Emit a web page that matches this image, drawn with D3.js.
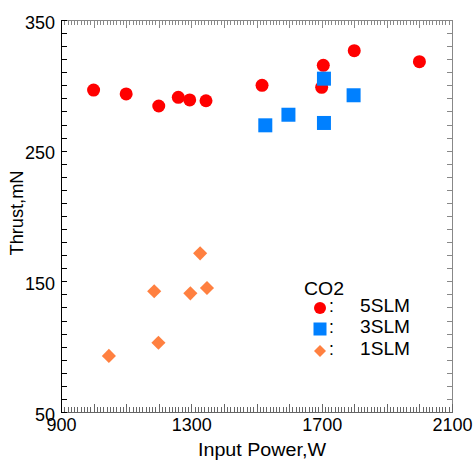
<!DOCTYPE html>
<html>
<head>
<meta charset="utf-8">
<script src="https://cdn.jsdelivr.net/npm/d3@7"></script>
<style>
    body { margin: 0; background: #fff; }
    svg { display: block; font-family: "Liberation Sans", Arial, sans-serif; }
</style>
</head>
<body>
<svg id="chart" width="476" height="463"></svg>
<script>
// CO2 thrust vs input power, three flow rates
const power5 = [1000, 1100, 1200, 1260, 1295, 1345, 1517, 1700, 1705, 1800, 2000];
const thrust5 = [296.4, 293.4, 284.2, 290.8, 288.8, 288.2, 300.0, 298.5, 315.3, 326.5, 318.1];

const power3 = [1527, 1598, 1707, 1707, 1798];
const thrust3 = [269.4, 277.5, 305.1, 271.2, 292.4];

const power1 = [1047, 1186, 1199, 1297, 1327, 1348];
const thrust1 = [92.9, 142.4, 103.0, 140.8, 171.4, 144.9];

const seriesNames = ["5SLM", "3SLM", "1SLM"];
const xLabels = [900, 1300, 1700, 2100];
const yLabels = [50, 150, 250, 350];

const margin = { top: 20, right: 24, bottom: 51, left: 61 };
const width = 476, height = 463;

const svg = d3.select("#chart");

const x = d3.scaleLinear().domain([900, 2100]).range([margin.left, width - margin.right]);
const y = d3.scaleLinear().domain([50, 350]).range([height - margin.bottom, margin.top]);

const x0 = margin.left, x1 = width - margin.right;
const y0 = height - margin.bottom, y1 = margin.top;

function styleAxis(g, color) {
    g.selectAll("path, line").attr("stroke", color).attr("shape-rendering", "crispEdges");
    g.selectAll("text").attr("font-size", 18).attr("fill", "#000").attr("font-family", "Liberation Sans, Arial, sans-serif");
}

const xMinor = d3.range(900, 2101, 10);
const xMajor = d3.range(900, 2101, 100);
const yTicks = d3.range(50, 351, 10);

// top axis (gray, no labels)
svg.append("g").attr("transform", `translate(0,${y1})`)
    .call(d3.axisTop(x).tickValues(xMinor).tickSize(-5).tickSizeOuter(0).tickFormat(""))
    .call(g => styleAxis(g, "#888"));
svg.append("g").attr("transform", `translate(0,${y1})`)
    .call(d3.axisTop(x).tickValues(xMajor).tickSize(-8).tickSizeOuter(0).tickFormat(""))
    .call(g => { g.select(".domain").remove(); styleAxis(g, "#888"); });

// right axis (gray, no labels)
svg.append("g").attr("transform", `translate(${x1},0)`)
    .call(d3.axisRight(y).tickValues(yTicks).tickSize(-5).tickSizeOuter(0).tickFormat(""))
    .call(g => styleAxis(g, "#888"));

// bottom axis
svg.append("g").attr("transform", `translate(0,${y0})`)
    .call(d3.axisBottom(x).tickValues(xMinor).tickSize(-5).tickSizeOuter(0).tickFormat(""))
    .call(g => styleAxis(g, "#666"));
svg.append("g").attr("transform", `translate(0,${y0})`)
    .call(d3.axisBottom(x).tickValues(xMajor).tickSize(-8).tickSizeOuter(0).tickPadding(6)
        .tickFormat(d => xLabels.includes(d) ? d : ""))
    .call(g => { g.select(".domain").remove(); styleAxis(g, "#666"); });

// left axis
svg.append("g").attr("transform", `translate(${x0},0)`)
    .call(d3.axisLeft(y).tickValues(yTicks).tickSize(-6).tickSizeOuter(0).tickPadding(6)
        .tickFormat(d => yLabels.includes(d) ? d : ""))
    .call(g => {
        styleAxis(g, "#000");
        g.selectAll("text").attr("dy", "0.45em");
    });

// axis titles (reference glyphs run a bit wide, so stretch to its widths)
svg.append("text")
    .attr("x", 262).attr("y", 456)
    .attr("text-anchor", "middle")
    .attr("font-size", 17.5)
    .attr("textLength", 128)
    .attr("lengthAdjust", "spacingAndGlyphs")
    .text("Input Power,W");

svg.append("text")
    .attr("transform", "translate(23,213) rotate(-90)")
    .attr("text-anchor", "middle")
    .attr("font-size", 17.5)
    .attr("textLength", 85)
    .attr("lengthAdjust", "spacingAndGlyphs")
    .text("Thrust,mN");

// markers
const red = "#ff0000", blue = "#0080ff", orange = "#ff8040";

const pts5 = power5.map((p, i) => ({ p, t: thrust5[i] }));
const pts3 = power3.map((p, i) => ({ p, t: thrust3[i] }));
const pts1 = power1.map((p, i) => ({ p, t: thrust1[i] }));

svg.append("g").selectAll("circle")
    .data(pts5)
    .enter()
    .append("circle")
    .attr("cx", d => x(d.p))
    .attr("cy", d => y(d.t))
    .attr("r", 6.5)
    .attr("fill", red);

svg.append("g").selectAll("rect")
    .data(pts3)
    .enter()
    .append("rect")
    .attr("x", d => x(d.p) - 7)
    .attr("y", d => y(d.t) - 7)
    .attr("width", 14)
    .attr("height", 14)
    .attr("fill", blue);

const diamond = d3.symbol().type(d3.symbolSquare).size(100);
svg.append("g").selectAll("path")
    .data(pts1)
    .enter()
    .append("path")
    .attr("d", diamond)
    .attr("transform", d => `translate(${x(d.p)},${y(d.t)}) rotate(45)`)
    .attr("fill", orange);

// legend
const legend = svg.append("g");
legend.append("text").attr("x", 304).attr("y", 295).attr("font-size", 17.5)
    .attr("textLength", 40).attr("lengthAdjust", "spacingAndGlyphs").text("CO2");

const rowY = [308, 329, 351];
legend.append("circle").attr("cx", 320).attr("cy", rowY[0]).attr("r", 6).attr("fill", red);
legend.append("rect").attr("x", 313.5).attr("y", rowY[1] - 6.5).attr("width", 13).attr("height", 13).attr("fill", blue);
legend.append("path").attr("d", d3.symbol().type(d3.symbolSquare).size(72))
    .attr("transform", `translate(320,${rowY[2]}) rotate(45)`).attr("fill", orange);

seriesNames.forEach((name, i) => {
    legend.append("text").attr("x", 329).attr("y", rowY[i] + 4).attr("font-size", 17.5).text(":");
    legend.append("text").attr("x", 360).attr("y", rowY[i] + 4).attr("font-size", 17.5)
        .attr("textLength", 50).attr("lengthAdjust", "spacingAndGlyphs").text(name);
});
</script>
</body>
</html>
